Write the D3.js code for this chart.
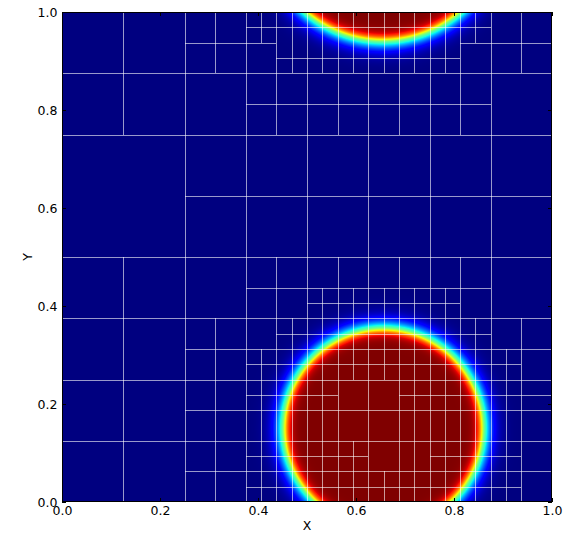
<!DOCTYPE html>
<html><head><meta charset="utf-8">
<script src="https://cdn.jsdelivr.net/npm/d3@7"></script>
<style>
html,body{margin:0;padding:0;background:#fff;}
svg{display:block;}
text{font-family:"DejaVu Sans",sans-serif;}
</style></head>
<body>
<script>
// ---- data ----
const xTicks = [0.0, 0.2, 0.4, 0.6, 0.8, 1.0];
const yTicks = [0.0, 0.2, 0.4, 0.6, 0.8, 1.0];
const xLabel = "X";
const yLabel = "Y";
// droplets of the volume-fraction field
const dropX = [0.656, 0.655];
const dropY = [0.150, 1.184];
const dropR = [0.205, 0.244];
const interfaceWidthOut = 0.022;
const interfaceWidthIn = 0.014;
// AMR mesh lines, in units of 1/32 of the domain
const meshUnit = 32;
// vertical: [x, y0, y1]
const meshVertical = [
  [4,0,16],[4,24,32],[8,0,32],[10,0,12],[10,28,32],[12,0,32],
  [13,0,10],[13,30,32],[14,0,16],[14,24,32],[15,0,12],[15,28,32],
  [16,0,32],[17,0,14],[17,28,32],[18,0,16],[18,24,32],
  [19,0,4],[19,8,14],[19,28,32],[20,0,32],[21,0,2],[21,8,14],[21,28,32],
  [22,0,16],[22,24,32],[23,0,14],[23,28,32],[24,0,32],[25,0,14],[25,28,32],
  [26,0,16],[26,24,32],[27,0,12],[27,30,32],[28,0,32],[29,0,10],
  [30,0,12],[30,28,32]
];
// horizontal: [y, x0, x1]
const meshHorizontal = [
  [1,12,30],[2,8,32],[3,12,20],[3,24,30],[4,0,32],[6,8,32],
  [7,12,18],[7,22,32],[8,0,32],[9,12,30],[10,8,32],[11,14,28],
  [12,0,32],[13,16,26],[14,12,28],[16,0,32],[20,8,32],[24,0,32],
  [26,12,28],[28,0,32],[29,14,26],[30,8,14],[30,26,32],[31,12,28]
];

// ---- layout ----
const W = 577, H = 533;
const L = 62, R = 552, T = 12, B = 502;
const x = d3.scaleLinear().domain([0,1]).range([L,R]);
const y = d3.scaleLinear().domain([0,1]).range([B,T]);

// jet colormap (matplotlib segment data)
const jr = d3.scaleLinear().domain([0,0.35,0.66,0.89,1]).range([0,0,1,1,0.5]).clamp(true);
const jg = d3.scaleLinear().domain([0,0.125,0.375,0.64,0.91,1]).range([0,0,1,1,0,0]).clamp(true);
const jb = d3.scaleLinear().domain([0,0.11,0.34,0.65,1]).range([0.5,1,1,0,0]).clamp(true);

const svg = d3.select("body").append("svg").attr("width",W).attr("height",H);

// field image
const pw = R-L, ph = B-T;
const cv = document.createElement("canvas");
cv.width = pw; cv.height = ph;
const ctx = cv.getContext("2d");
const img = ctx.createImageData(pw, ph);
for (let py=0; py<ph; py++){
  const yv = y.invert(T+py+0.5);
  for (let px=0; px<pw; px++){
    const xv = x.invert(L+px+0.5);
    let v = 0;
    for (let k=0;k<dropX.length;k++){
      const s = Math.hypot(xv-dropX[k], yv-dropY[k]) - dropR[k];
      const w = s < 0 ? interfaceWidthIn : interfaceWidthOut;
      v = Math.max(v, 0.5*(1-Math.tanh(s/w)));
    }
    const o = (py*pw+px)*4;
    img.data[o] = Math.round(255*jr(v));
    img.data[o+1] = Math.round(255*jg(v));
    img.data[o+2] = Math.round(255*jb(v));
    img.data[o+3] = 255;
  }
}
ctx.putImageData(img,0,0);
svg.append("image").attr("x",L).attr("y",T).attr("width",pw).attr("height",ph)
  .attr("preserveAspectRatio","none").attr("href",cv.toDataURL());

// mesh
const g = svg.append("g").attr("stroke","#ffffff").attr("stroke-opacity",0.6)
  .attr("stroke-width",1).attr("shape-rendering","crispEdges");
g.selectAll("line.v").data(meshVertical).join("line").attr("class","v")
  .attr("x1",d=>Math.round(x(d[0]/meshUnit))+0.5).attr("x2",d=>Math.round(x(d[0]/meshUnit))+0.5)
  .attr("y1",d=>y(d[1]/meshUnit)).attr("y2",d=>y(d[2]/meshUnit));
g.selectAll("line.h").data(meshHorizontal).join("line").attr("class","h")
  .attr("y1",d=>Math.round(y(d[0]/meshUnit))+0.5).attr("y2",d=>Math.round(y(d[0]/meshUnit))+0.5)
  .attr("x1",d=>x(d[1]/meshUnit)).attr("x2",d=>x(d[2]/meshUnit));

// axes
const fs = "12.5px";
const fmt = d3.format(".1f");
const ax = svg.append("g").attr("transform",`translate(0,${B})`)
  .call(d3.axisBottom(x).tickValues(xTicks).tickFormat(fmt).tickSize(-4).tickPadding(4.5));
const ay = svg.append("g").attr("transform",`translate(${L},0)`)
  .call(d3.axisLeft(y).tickValues(yTicks).tickFormat(fmt).tickSize(-4).tickPadding(4.5));
const at = svg.append("g").attr("transform",`translate(0,${T})`)
  .call(d3.axisTop(x).tickValues(xTicks).tickFormat("").tickSize(-4));
const ar = svg.append("g").attr("transform",`translate(${R},0)`)
  .call(d3.axisRight(y).tickValues(yTicks).tickFormat("").tickSize(-4));
[ax,ay,at,ar].forEach(a=>{
  a.select(".domain").remove();
  a.selectAll("text").attr("font-size",fs).attr("fill","#000").attr("font-family","DejaVu Sans");
  a.selectAll("line").attr("stroke","#000");
});
svg.append("rect").attr("x",L+0.5).attr("y",T+0.5).attr("width",R-L-1).attr("height",B-T-1)
  .attr("fill","none").attr("stroke","#000").attr("stroke-width",1);

svg.append("text").attr("x",(L+R)/2).attr("y",530).attr("text-anchor","middle")
  .attr("font-size",fs).text(xLabel);
svg.append("text").attr("transform",`translate(32,${(T+B)/2}) rotate(-90)`)
  .attr("text-anchor","middle").attr("font-size",fs).text(yLabel);
</script>
</body></html>
